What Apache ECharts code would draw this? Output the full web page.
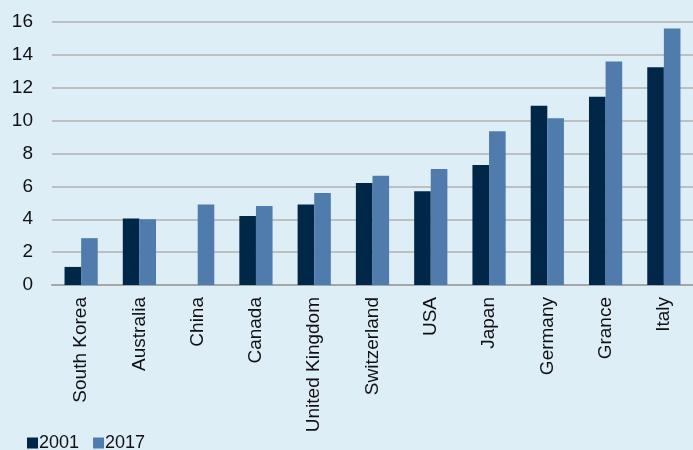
<!DOCTYPE html>
<html>
<head>
<meta charset="utf-8">
<script src="https://cdn.jsdelivr.net/npm/echarts@6/dist/echarts.min.js"></script>
<style>
  html, body { margin: 0; padding: 0; background: #deeef7; }
  #chart { width: 693px; height: 450px; }
</style>
</head>
<body>
<div id="chart"></div>
<script>
// categories and values
const countries = ['South Korea', 'Australia', 'China', 'Canada', 'United Kingdom',
  'Switzerland', 'USA', 'Japan', 'Germany', 'Grance', 'Italy'];
const values2001 = [1.1, 4.05, null, 4.2, 4.9, 6.2, 5.7, 7.3, 10.9, 11.45, 13.25];
const values2017 = [2.85, 4.0, 4.9, 4.8, 5.6, 6.65, 7.05, 9.35, 10.15, 13.6, 15.6];
const yTicks = [0, 2, 4, 6, 8, 10, 12, 14, 16];

const chart = echarts.init(document.getElementById('chart'));

const option = {
  backgroundColor: '#deeef7',
  animation: false,
  textStyle: { fontFamily: 'Liberation Sans, Arial, sans-serif' },
  legend: {
    left: 22,
    top: 429,
    itemWidth: 11,
    itemHeight: 11,
    itemGap: 14,
    icon: 'rect',
    textStyle: { fontSize: 18, color: '#111', padding: [0, 0, 0, -4] },
    data: ['2001', '2017']
  },
  grid: { left: 52, top: 22, width: 645, height: 263 },
  xAxis: {
    type: 'category',
    data: countries,
    axisLine: { lineStyle: { color: '#a6a6a6', width: 2 } },
    axisTick: { length: 6, lineStyle: { color: '#a6a6a6', width: 2 } },
    axisLabel: { rotate: 90, fontSize: 19, color: '#111', margin: 12 }
  },
  yAxis: {
    type: 'value',
    min: yTicks[0],
    max: yTicks[yTicks.length - 1],
    interval: 2,
    axisLine: { show: false },
    axisTick: { show: false },
    axisLabel: { fontSize: 19, color: '#111', margin: 19 },
    splitLine: { lineStyle: { color: '#b0b0b0', width: 1.5 } }
  },
  series: [
    {
      name: '2001',
      type: 'bar',
      data: values2001,
      barGap: '0%',
      barCategoryGap: '43%',
      itemStyle: { color: '#002747' }
    },
    {
      name: '2017',
      type: 'bar',
      data: values2017,
      itemStyle: { color: '#4f7cac' }
    }
  ]
};

chart.setOption(option);
</script>
</body>
</html>
